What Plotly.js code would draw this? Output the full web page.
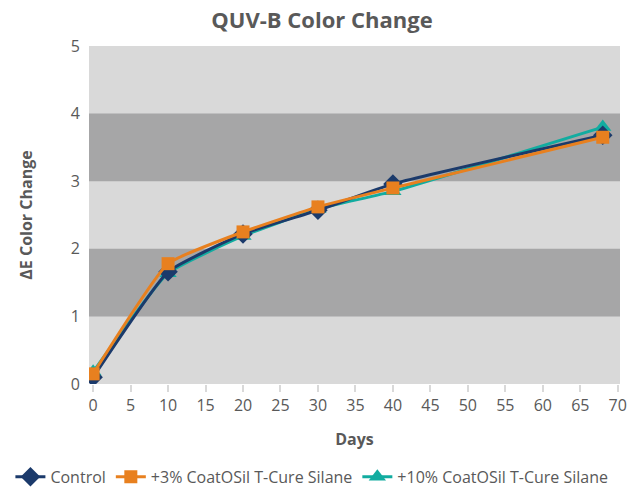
<!DOCTYPE html>
<html>
<head>
<meta charset="utf-8">
<script src="https://cdn.plot.ly/plotly-3.0.1.min.js"></script>
<style>
	html, body { margin: 0; padding: 0; background: #fff; }
	#chart { width: 644px; height: 494px; }
</style>
</head>
<body>
<div id="chart"></div>
<script>
(function () {

	'use strict';

	// days of exposure
	const days = [0, 10, 20, 30, 40, 68];

	// delta E readings per formulation
	const control = [0.10, 1.66, 2.22, 2.57, 2.96, 3.68];
	const silane3 = [0.15, 1.78, 2.25, 2.62, 2.90, 3.65];
	const silane10 = [0.18, 1.64, 2.19, 2.59, 2.85, 3.80];

	const seriesNames = ['Control', '+3% CoatOSil T-Cure Silane', '+10% CoatOSil T-Cure Silane'];

	// alternating background bands (y values)
	const darkBands = [[1, 2], [3, 4]];

	const textGrey = '#595959';
	const fontFamily = '"Open Sans", Lato, sans-serif';

	/**
	* one smoothed line + markers trace
	*/
	const buildTrace = ( name, y, color, symbol, rank ) => ({
		x: days,
		y: y,
		name: name,
		type: 'scatter',
		mode: 'lines+markers',
		legendrank: rank,
		line: { color: color, width: 3, shape: 'spline', smoothing: 0.4 },
		marker: { color: color, symbol: symbol, size: symbol === 'square' ? 13 : 15 },
	});

	// teal underneath, orange drawn last (on top)
	const data = [
		buildTrace( seriesNames[2], silane10, '#12aca0', 'triangle-up', 3 ),
		buildTrace( seriesNames[0], control, '#1b3a6b', 'diamond', 1 ),
		buildTrace( seriesNames[1], silane3, '#e8801f', 'square', 2 ),
	];

	const shapes = darkBands.map(( band ) => ({
		type: 'rect',
		xref: 'paper',
		yref: 'y',
		x0: 0, x1: 1,
		y0: band[0], y1: band[1],
		fillcolor: '#a6a6a7',
		line: { width: 0 },
		layer: 'below',
	}));

	const layout = {
		width: 644,
		height: 494,
		margin: { l: 89, r: 24, t: 46, b: 110, autoexpand: false },
		paper_bgcolor: '#ffffff',
		plot_bgcolor: '#d9d9d9',
		font: { family: fontFamily, color: textGrey },
		title: {
			text: '<b>QUV-B Color Change</b>',
			font: { size: 22, color: textGrey, family: fontFamily },
			x: 0.5, xref: 'container', xanchor: 'center',
			y: 0.975, yref: 'container', yanchor: 'top',
		},
		shapes: shapes,
		xaxis: {
			range: [-0.55, 70.3],
			tickvals: [0, 5, 10, 15, 20, 25, 30, 35, 40, 45, 50, 55, 60, 65, 70],
			ticks: 'outside',
			ticklen: 7,
			tickwidth: 2,
			tickcolor: '#d9d9d9',
			showgrid: false,
			zeroline: false,
			showline: false,
			tickangle: 0,
			tickfont: { size: 16, color: textGrey },
			title: {
				text: '<b>Days</b>',
				font: { size: 16, color: textGrey },
				standoff: 18,
			},
		},
		yaxis: {
			range: [0, 5],
			dtick: 1,
			showgrid: false,
			zeroline: false,
			showline: false,
			ticks: '',
			ticklabelstandoff: 8,
			tickfont: { size: 16, color: textGrey },
			title: {
				text: '<b>ΔE Color Change</b>',
				font: { size: 16, color: textGrey },
				standoff: 34,
			},
		},
		showlegend: true,
		// anchored left in the margin, below the plot: may use the full width
		legend: {
			orientation: 'h',
			x: -0.148,
			xanchor: 'left',
			y: -0.275,
			yanchor: 'middle',
			font: { size: 16, color: textGrey },
			itemwidth: 30,
			tracegroupgap: 0,
		},
	};

	Plotly.newPlot( 'chart', data, layout, { displayModeBar: false, staticPlot: true } );

})();
</script>
</body>
</html>
